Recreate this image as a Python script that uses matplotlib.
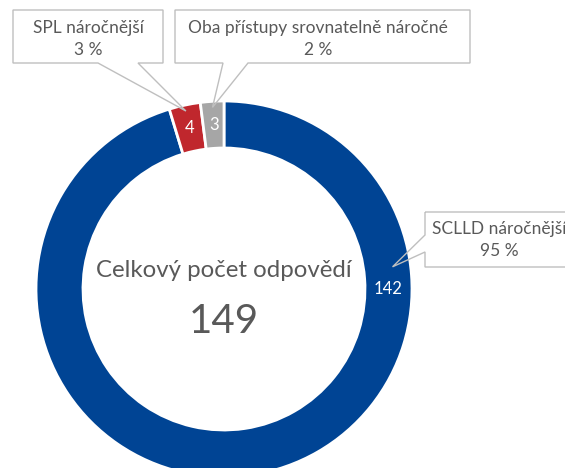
import numpy as np
import matplotlib
matplotlib.use("Agg")
from matplotlib import pyplot as plt
from matplotlib.patches import Polygon

# data
categories = ['SCLLD náročnější', 'SPL náročnější', 'Oba přístupy srovnatelně náročné']
counts = [142, 4, 3]
percent_labels = ['95 %', '3 %', '2 %']
colors = ['#004494', '#C0272D', '#A6A6A6']
center_title = 'Celkový počet odpovědí'

W, H = 565, 468
plt.rcParams['font.family'] = ['Lato', 'DejaVu Sans']
text_gray = '#595959'
line_gray = '#BFBFBF'

fig = plt.figure(figsize=(W / 100, H / 100), dpi=100)
ax = fig.add_axes([0, 0, 1, 1])


def px(x, y):
    # pixel position (y down) -> data coords
    return x, H - y


cx, cy = px(224, 289)
R = 188
ring = 47
wedges, _ = ax.pie(counts, colors=colors, startangle=90, counterclock=False,
                   center=(cx, cy), radius=R,
                   wedgeprops=dict(width=ring, edgecolor='white', linewidth=2))
ax.set_xlim(0, W)
ax.set_ylim(0, H)
ax.set_aspect('equal')
ax.axis('off')

# value labels inside the ring
for i, w in enumerate(wedges):
    ang = (w.theta1 + w.theta2) / 2
    if i == 0:
        ang = 0.0
    r = R - ring / 2
    ax.text(cx + r * np.cos(np.radians(ang)), cy + r * np.sin(np.radians(ang)),
            str(counts[i]), color='white', fontsize=12, ha='center', va='center')

# total in the middle
ax.text(cx, H - 277, center_title, fontsize=17.3, color=text_gray,
        ha='center', va='baseline')
ax.text(cx, H - 333, str(sum(counts)), fontsize=29, color=text_gray,
        ha='center', va='baseline')


def tip_of(i, rr, ang=None):
    w = wedges[i]
    if ang is None:
        ang = (w.theta1 + w.theta2) / 2
    return cx + rr * np.cos(np.radians(ang)), cy + rr * np.sin(np.radians(ang))


def callout(pts, tip, idx, text_xy):
    pts = [px(*p) if p != 'tip' else tip for p in pts]
    ax.add_patch(Polygon(pts, closed=True, facecolor='white', edgecolor='none', zorder=0.5))
    ax.add_patch(Polygon(pts, closed=True, fill=False, edgecolor=line_gray, lw=1, zorder=3))
    tx, ty = px(*text_xy)
    ax.text(tx, ty, categories[idx] + '\n' + percent_labels[idx], fontsize=12.5,
            color=text_gray, ha='center', va='center', linespacing=1.4, zorder=4)


# SPL
callout([(13, 10), (163, 10), (163, 63), (138, 63), 'tip', (98, 63), (13, 63)],
        tip_of(1, R - 6), 1, (88, 39))
# Oba
callout([(175, 10), (470, 10), (470, 63), (248, 63), 'tip', (223, 63), (175, 63)],
        tip_of(2, R - 6), 2, (318, 39))
# SCLLD
callout([(425, 212), (585, 212), (585, 267), (425, 267), (425, 252), 'tip', (425, 235)],
        tip_of(0, R - 18, 7.5), 0, (499, 240))

fig.savefig('out.png', dpi=100)
